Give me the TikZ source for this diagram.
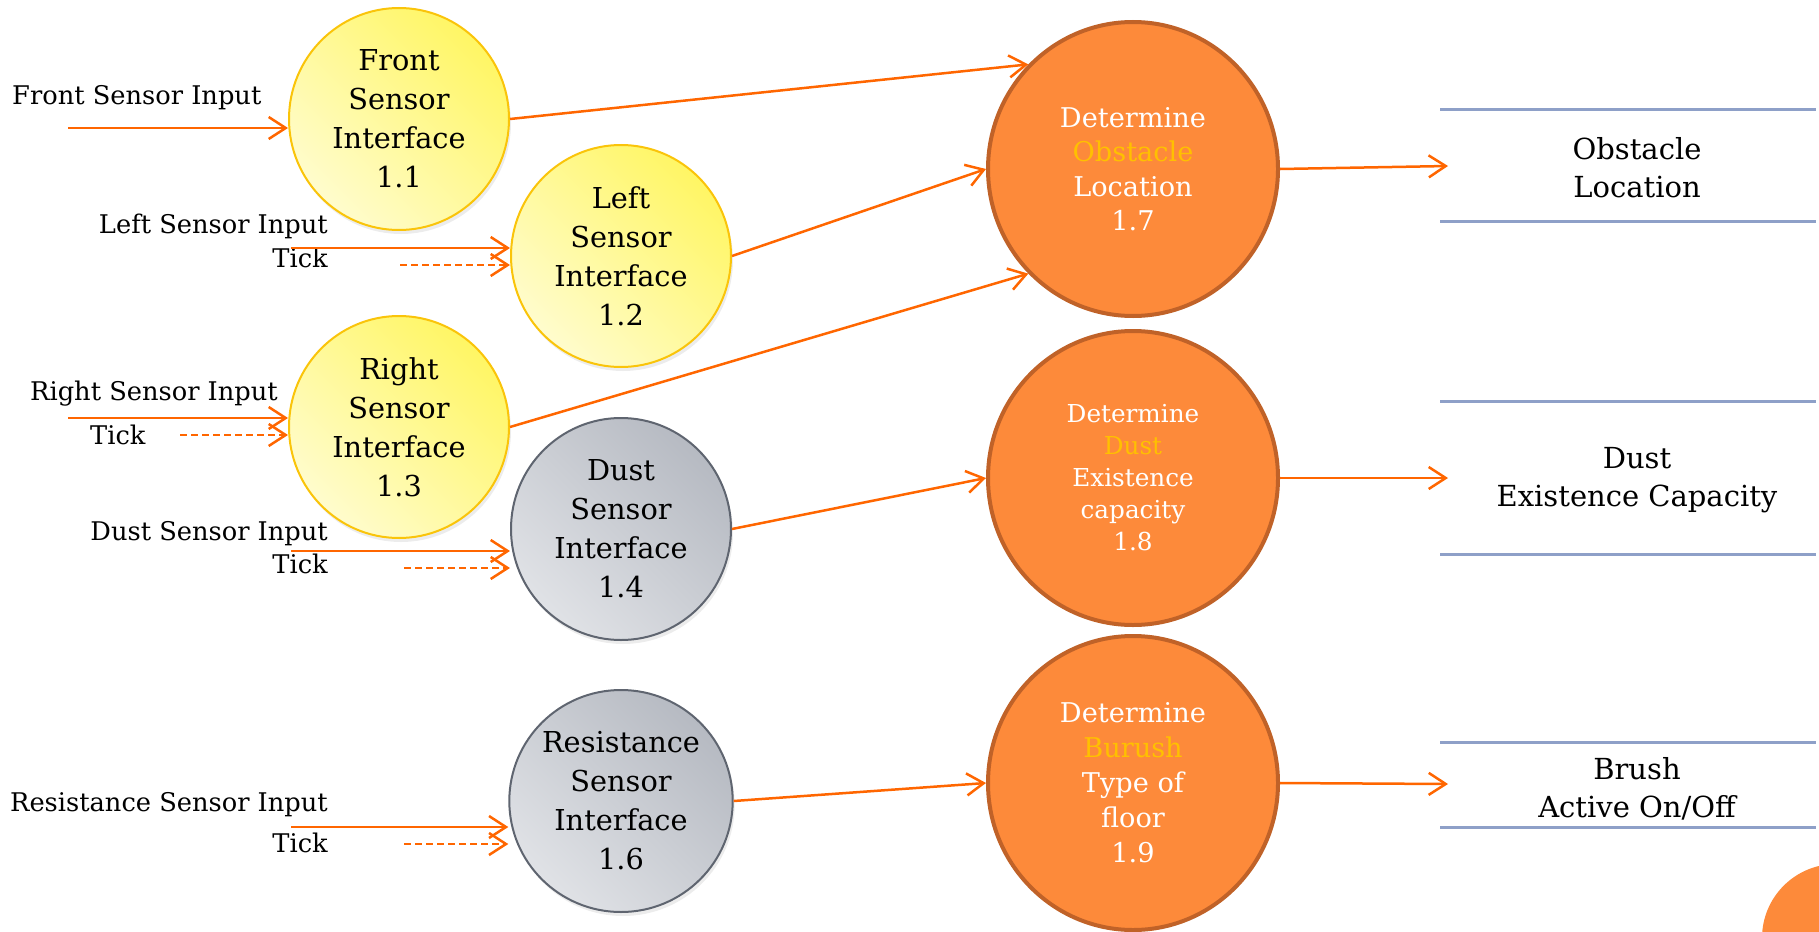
\documentclass[tikz,border=0pt]{standalone}
\usepackage{fontspec}
\setmainfont{DejaVu Serif}
\usepackage{tikz}
\usetikzlibrary{arrows.meta}
\usetikzlibrary{positioning}
\usetikzlibrary{shapes.geometric}
\usetikzlibrary{shadows}
\definecolor{flow}{RGB}{255,102,0}
\definecolor{procfill}{RGB}{253,138,58}
\definecolor{procline}{RGB}{192,98,40}
\definecolor{hilite}{RGB}{255,192,0}
\definecolor{ylwline}{RGB}{250,196,10}
\definecolor{ylwdark}{RGB}{255,246,100}
\definecolor{ylwlight}{RGB}{255,252,205}
\definecolor{gryline}{RGB}{95,101,112}
\definecolor{grydark}{RGB}{182,186,194}
\definecolor{grylight}{RGB}{224,226,230}
\definecolor{storeline}{RGB}{142,160,200}
\begin{document}
\begin{tikzpicture}[x=1pt,y=-1pt,>={Straight Barb[length=17pt,width=22pt]},
    sensor/.style={ellipse,inner sep=0pt,minimum width=220pt,minimum height=222pt,line width=2pt,align=center,
        font=\fontsize{28.8}{39}\selectfont,drop shadow={opacity=0.15,shadow xshift=2pt,shadow yshift=-4pt}},
    ylw/.style={sensor,draw=ylwline,top color=ylwdark,bottom color=ylwlight,shading angle=-45},
    gry/.style={sensor,draw=gryline,top color=grydark,bottom color=grylight,shading angle=-45},
    proc/.style={ellipse,inner sep=0pt,minimum width=290pt,minimum height=294pt,line width=4pt,
        draw=procline,fill=procfill,text=white,align=center,font=\fontsize{27.2}{34.5}\selectfont},
    flowline/.style={flow,line width=2.5pt,->},
    tickline/.style={flowline,dash pattern=on 7pt off 4pt},
    lbl/.style={font=\fontsize{25.7}{32}\selectfont,inner sep=0pt},
    store/.style={storeline,line width=3pt},
    storetext/.style={align=center,font=\fontsize{29}{38}\selectfont}]
    \useasboundingbox (0,0) rectangle (1819,931);
    \begin{scope}
        \clip (0,0) rectangle (1819,931);
        \fill[procfill] (1836,938) circle (74pt);
    \end{scope}

    \node[ylw] (front) at (399,119) {Front\\Sensor\\Interface\\1.1};
    \node[ylw] (left) at (621,256) {Left\\Sensor\\Interface\\1.2};
    \node[ylw] (right) at (399,427) {Right\\Sensor\\Interface\\1.3};
    \node[gry] (dust) at (621,529) {Dust\\Sensor\\Interface\\1.4};
    \node[gry] (resist) at (621,801) {Resistance\\Sensor\\Interface\\1.6};

    \node[proc] (obst) at (1133,169) {Determine\\\textcolor{hilite}{Obstacle}\\Location\\1.7};
    \node[proc,font=\fontsize{24.7}{32}\selectfont] (dustex) at (1133,478) {Determine\\\textcolor{hilite}{Dust}\\Existence\\capacity\\1.8};
    \node[proc,font=\fontsize{27.2}{35}\selectfont] (brush) at (1133,783) {Determine\\\textcolor{hilite}{Burush}\\Type of\\floor\\1.9};

    \draw[store] (1440,110) -- (1816,110) (1440,221) -- (1816,221);
    \draw[store] (1440,401) -- (1816,401) (1440,554) -- (1816,554);
    \draw[store] (1440,742) -- (1816,742) (1440,827) -- (1816,827);
    \node[storetext] (obsst) at (1637,168) {Obstacle\\Location};
    \node[storetext] (dustst) at (1637,480) {Dust\\Existence Capacity};
    \node[storetext] (brushst) at (1637,789) {Brush\\Active On/Off};
    \coordinate (obsin) at (1448,166);
    \coordinate (dustin) at (1448,478);
    \coordinate (brushin) at (1448,784);

    \node[lbl,anchor=base west] (fsl) at (12,105) {Front Sensor Input};
    \node[lbl,anchor=base east] (lsl) at (328,233) {Left Sensor Input};
    \node[lbl,anchor=base east] (ltk) at (328,267) {Tick};
    \node[lbl,anchor=base west] (rsl) at (30,400) {Right Sensor Input};
    \node[lbl,anchor=base west] (rtk) at (90,444) {Tick};
    \node[lbl,anchor=base east] (dsl) at (328,540) {Dust Sensor Input};
    \node[lbl,anchor=base east] (dtk) at (328,573) {Tick};
    \node[lbl,anchor=base east] (esl) at (328,811) {Resistance Sensor Input};
    \node[lbl,anchor=base east] (etk) at (328,852) {Tick};

    \coordinate (fsi) at (68,128);
    \coordinate (lsi) at (291,248);
    \coordinate (lti) at (400,265);
    \coordinate (rsi) at (68,418);
    \coordinate (rti) at (180,435);
    \coordinate (dsi) at (291,551);
    \coordinate (dti) at (404,568);
    \coordinate (esi) at (291,827);
    \coordinate (eti) at (404,844);

    \draw[flowline] (fsi) -- (fsi -| front.west);
    \draw[flowline] (lsi) -- (lsi -| left.west);
    \draw[tickline] (lti) -- (lti -| left.west);
    \draw[flowline] (rsi) -- (rsi -| right.west);
    \draw[tickline] (rti) -- (rti -| right.west);
    \draw[flowline] (dsi) -- (dsi -| dust.west);
    \draw[tickline] (dti) -- (dti -| dust.west);
    \draw[flowline] (esi) -- (esi -| resist.west);
    \draw[tickline] (eti) -- (eti -| resist.west);

    \draw[flowline] (front.east) -- (obst.135);
    \draw[flowline] (left.east) -- (obst.west);
    \draw[flowline] (right.east) -- (obst.225);
    \draw[flowline] (dust.east) -- (dustex.west);
    \draw[flowline] (resist.east) -- (brush.west);

    \draw[flowline] (obst.east) -- (obsin);
    \draw[flowline] (dustex.east) -- (dustin);
    \draw[flowline] (brush.east) -- (brushin);
\end{tikzpicture}
\end{document}
